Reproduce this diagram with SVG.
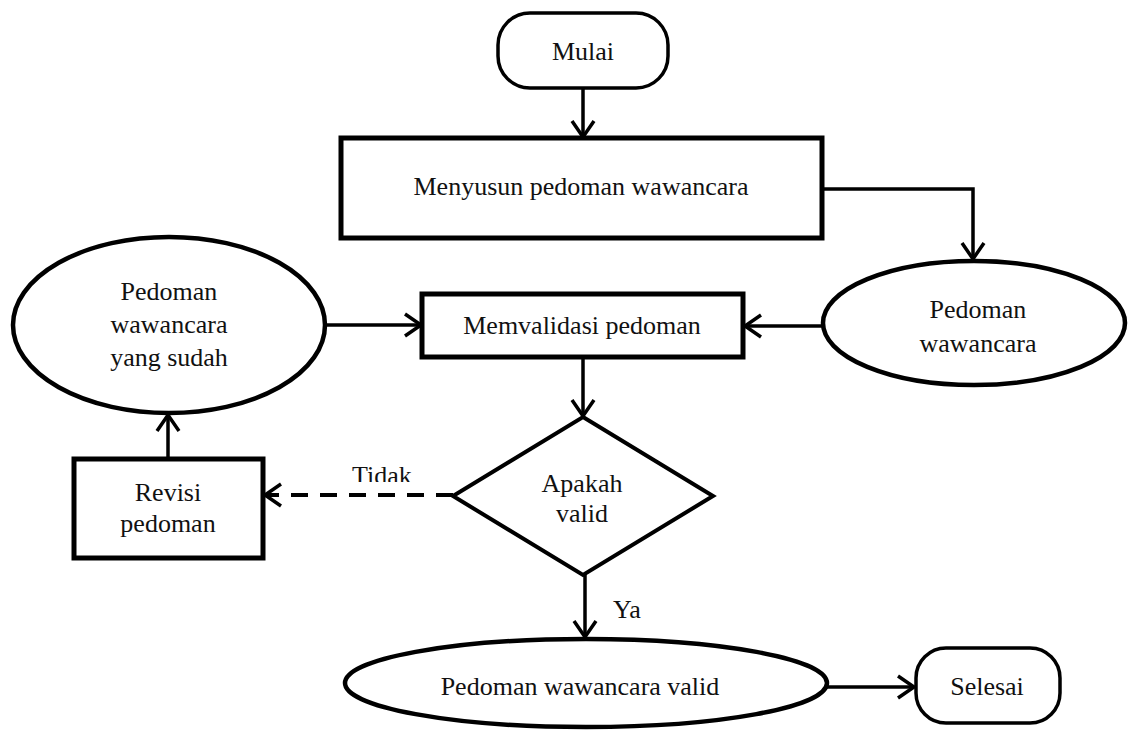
<svg xmlns="http://www.w3.org/2000/svg" width="1136" height="731" viewBox="0 0 1136 731">
  <style>
    .box { fill: #fff; stroke: #000; stroke-width: 5; }
    .term { fill: #fff; stroke: #000; stroke-width: 3.5; }
    .oval { fill: #fff; stroke: #000; stroke-width: 4.5; }
    .dec { fill: #fff; stroke: #000; stroke-width: 4; stroke-linejoin: miter; }
    .lbl { font-family: "Liberation Serif", "Times New Roman", serif; font-size: 26px; fill: #111; }
    .mid { text-anchor: middle; }
    .edge { fill: none; stroke: #000; stroke-width: 3.5; marker-end: url(#arrow); }
    .dash { stroke-width: 4; stroke-dasharray: 17 12; }
  </style>
  <defs>
    <marker id="arrow" markerUnits="userSpaceOnUse" viewBox="0 0 20 26" refX="18" refY="13" markerWidth="20" markerHeight="26" orient="auto">
      <path d="M2,2 L18,13 L2,24" fill="none" stroke="#000" stroke-width="3.5" stroke-linejoin="miter"/>
    </marker>
    <clipPath id="tidakClip">
      <rect x="330" y="440" width="120" height="42"/>
    </clipPath>
  </defs>

  <!-- connectors -->
  <g id="connectors">
    <line class="edge" x1="583" y1="88" x2="583" y2="137"/>
    <polyline class="edge" points="822,189 973,189 973,259"/>
    <line class="edge" x1="823" y1="326" x2="745" y2="326"/>
    <line class="edge" x1="325" y1="325" x2="421" y2="325"/>
    <line class="edge" x1="583" y1="358" x2="583" y2="416"/>
    <line class="edge dash" x1="453" y1="495" x2="265" y2="495"/>
    <line class="edge" x1="168" y1="459" x2="168" y2="415"/>
    <line class="edge" x1="585" y1="575" x2="585" y2="637"/>
    <line class="edge" x1="827" y1="687" x2="914" y2="687"/>
    <text class="lbl" x="352" y="484" clip-path="url(#tidakClip)">Tidak</text>
    <text class="lbl" x="613" y="618">Ya</text>
  </g>

  <g id="mulai">
    <rect class="term" x="498" y="13" width="170" height="75" rx="32" ry="32"/>
    <text class="lbl mid" x="583" y="60">Mulai</text>
  </g>

  <g id="menyusun">
    <rect class="box" x="341" y="138" width="481" height="100"/>
    <text class="lbl mid" x="581" y="195">Menyusun pedoman wawancara</text>
  </g>

  <g id="pedoman-wawancara">
    <ellipse class="oval" cx="974" cy="323" rx="151" ry="62"/>
    <text class="lbl mid" x="978" y="318">Pedoman</text>
    <text class="lbl mid" x="978" y="352">wawancara</text>
  </g>

  <g id="pedoman-revisi">
    <ellipse class="oval" cx="169" cy="325" rx="156" ry="88"/>
    <text class="lbl mid" x="169" y="300">Pedoman</text>
    <text class="lbl mid" x="169" y="333">wawancara</text>
    <text class="lbl mid" x="169" y="366">yang sudah</text>
  </g>

  <g id="memvalidasi">
    <rect class="box" x="422" y="294" width="321" height="63"/>
    <text class="lbl mid" x="582" y="334">Memvalidasi pedoman</text>
  </g>

  <g id="apakah-valid">
    <polygon class="dec" points="583,417 713,496 583,575 453,496"/>
    <text class="lbl mid" x="582" y="492">Apakah</text>
    <text class="lbl mid" x="582" y="522">valid</text>
  </g>

  <g id="revisi">
    <rect class="box" x="74" y="459" width="189" height="99"/>
    <text class="lbl mid" x="168" y="501">Revisi</text>
    <text class="lbl mid" x="168" y="532">pedoman</text>
  </g>

  <g id="pedoman-valid">
    <ellipse class="oval" cx="586" cy="683" rx="241" ry="44"/>
    <text class="lbl mid" x="580" y="695">Pedoman wawancara valid</text>
  </g>

  <g id="selesai">
    <rect class="term" x="916" y="648" width="144" height="75" rx="30" ry="30"/>
    <text class="lbl mid" x="987" y="695">Selesai</text>
  </g>
</svg>
